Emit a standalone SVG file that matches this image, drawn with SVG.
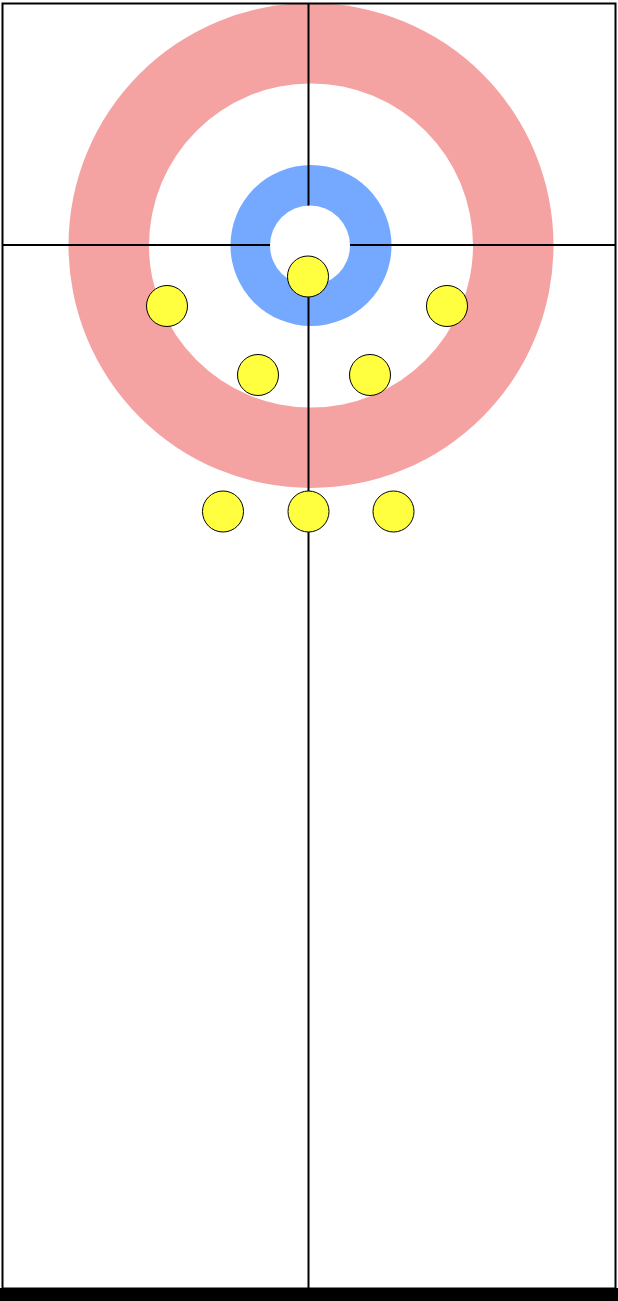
<svg xmlns="http://www.w3.org/2000/svg" width="618" height="1301" viewBox="0 0 618 1301">
<style>
.line{stroke:#000;stroke-width:2;fill:none}
.stone{fill:#FFFF40;stroke:#000;stroke-width:1}
</style>
<rect x="0" y="0" width="618" height="1301" fill="#fff"/>
<g id="house">
<circle cx="311" cy="245.5" r="242.5" fill="#F5A3A2"/>
<circle cx="311" cy="245.5" r="162" fill="#fff"/>
<circle cx="311" cy="245.5" r="80.5" fill="#74A9FF"/>
</g>
<g id="lines">
<line class="line" x1="308.5" y1="3" x2="308.5" y2="1288"/>
<line class="line" x1="2" y1="245" x2="616" y2="245"/>
</g>
<circle id="button" cx="310" cy="245.5" r="40" fill="#fff"/>
<rect class="line" x="2.5" y="3.5" width="613" height="1285"/>
<rect x="0" y="1288" width="618" height="13" fill="#000"/>
<g id="stones">
<circle class="stone" cx="308" cy="276.5" r="20.5"/>
<circle class="stone" cx="167" cy="306" r="20.5"/>
<circle class="stone" cx="447" cy="306" r="20.5"/>
<circle class="stone" cx="258" cy="375" r="20.5"/>
<circle class="stone" cx="370" cy="375" r="20.5"/>
<circle class="stone" cx="223" cy="511.5" r="20.5"/>
<circle class="stone" cx="308.5" cy="511.5" r="20.5"/>
<circle class="stone" cx="393.5" cy="511.5" r="20.5"/>
</g>
</svg>
